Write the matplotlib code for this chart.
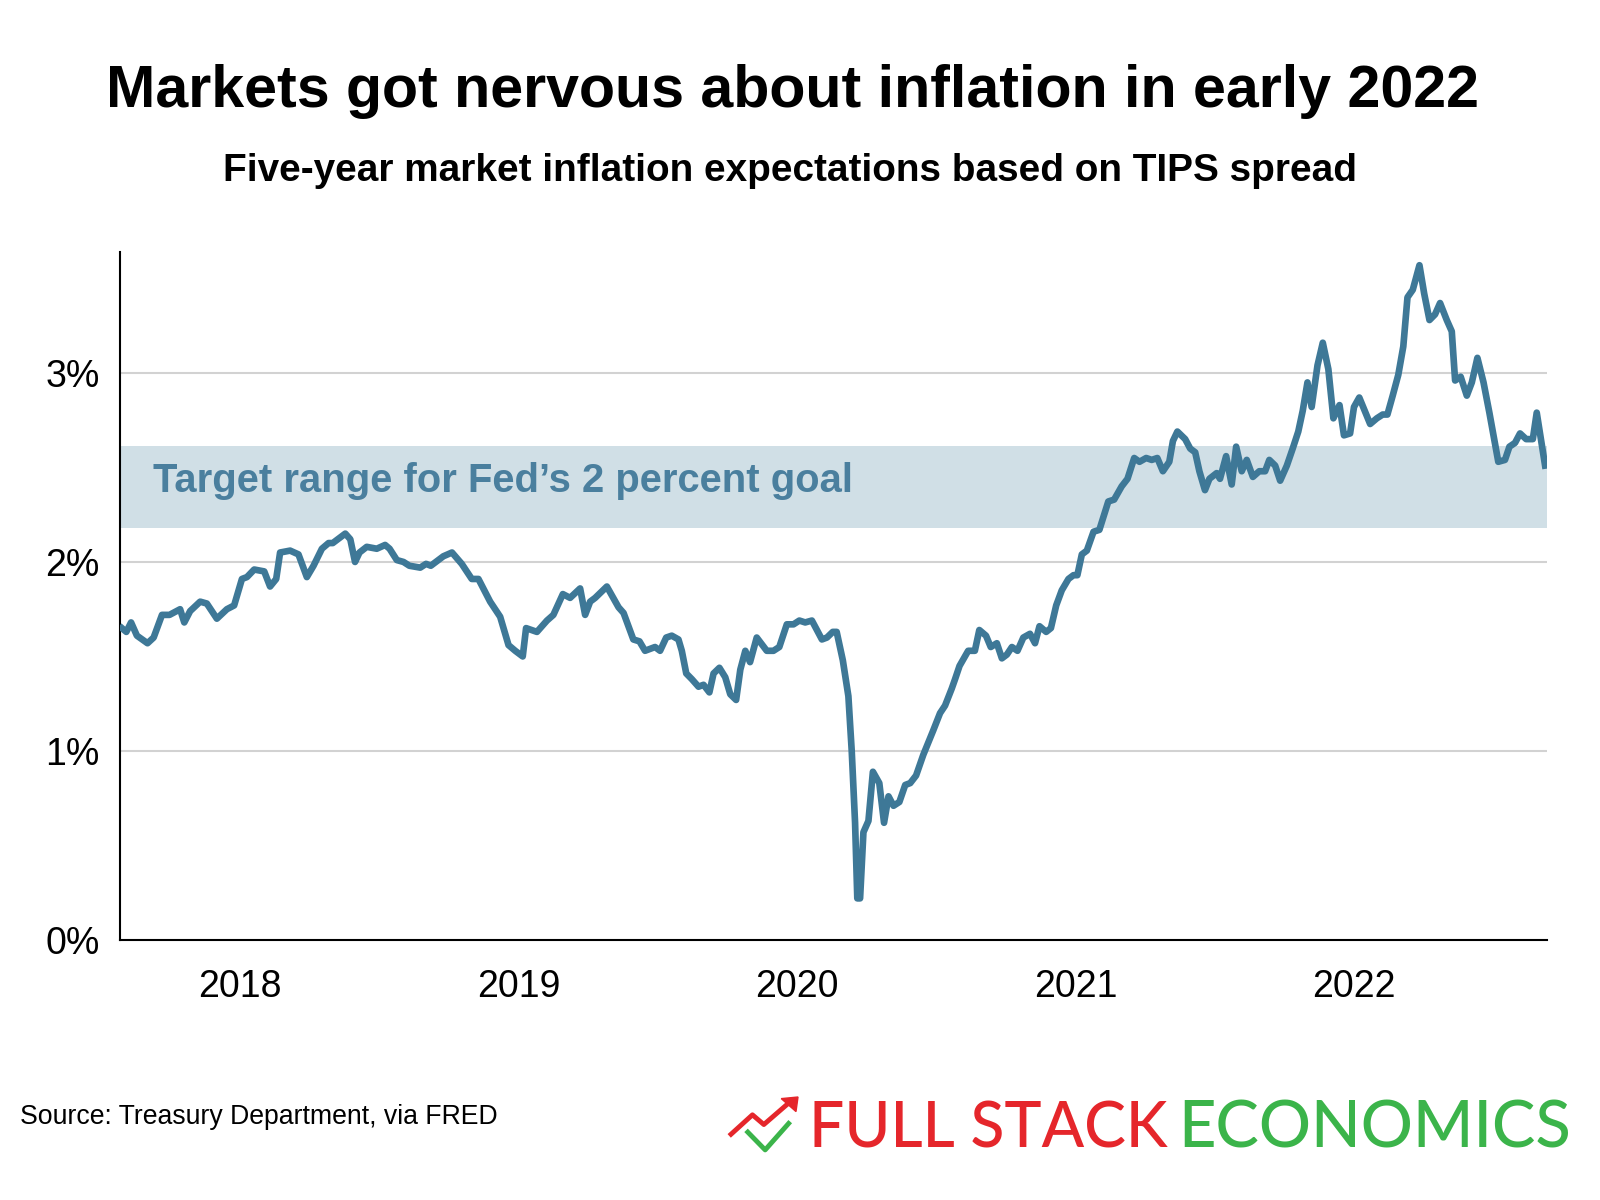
import matplotlib
matplotlib.use("Agg")
import matplotlib.pyplot as plt
from matplotlib.lines import Line2D
from matplotlib.patches import Polygon

# five-year breakeven (TIPS spread); dates as decimal years
dates = [
    2017.576, 2017.592, 2017.609, 2017.630, 2017.668, 2017.690, 2017.720, 2017.747,
    2017.785, 2017.800, 2017.821, 2017.857, 2017.881, 2017.917, 2017.953, 2017.979,
    2018.007, 2018.025, 2018.051, 2018.087, 2018.108, 2018.130, 2018.144, 2018.180,
    2018.210, 2018.240, 2018.264, 2018.294, 2018.318, 2018.333, 2018.378, 2018.396,
    2018.413, 2018.429, 2018.455, 2018.491, 2018.521, 2018.537, 2018.563, 2018.587,
    2018.608, 2018.647, 2018.668, 2018.685, 2018.730, 2018.761, 2018.796, 2018.832,
    2018.856, 2018.898, 2018.934, 2018.964, 2018.988, 2019.015, 2019.027, 2019.066,
    2019.102, 2019.125, 2019.159, 2019.185, 2019.221, 2019.239, 2019.257, 2019.275,
    2019.317, 2019.359, 2019.377, 2019.412, 2019.434, 2019.454, 2019.490, 2019.508,
    2019.530, 2019.550, 2019.574, 2019.586, 2019.602, 2019.622, 2019.646, 2019.664,
    2019.685, 2019.700, 2019.721, 2019.742, 2019.760, 2019.781, 2019.796, 2019.814,
    2019.831, 2019.855, 2019.891, 2019.915, 2019.936, 2019.963, 2019.987, 2020.008,
    2020.029, 2020.053, 2020.089, 2020.107, 2020.128, 2020.142, 2020.164, 2020.184,
    2020.196, 2020.208, 2020.216, 2020.226, 2020.238, 2020.256, 2020.272, 2020.295,
    2020.312, 2020.328, 2020.346, 2020.367, 2020.388, 2020.406, 2020.427, 2020.453,
    2020.489, 2020.513, 2020.531, 2020.555, 2020.567, 2020.583, 2020.614, 2020.638,
    2020.654, 2020.678, 2020.695, 2020.717, 2020.735, 2020.753, 2020.771, 2020.791,
    2020.812, 2020.836, 2020.854, 2020.870, 2020.894, 2020.911, 2020.930, 2020.950,
    2020.974, 2020.992, 2021.006, 2021.022, 2021.040, 2021.064, 2021.085, 2021.117,
    2021.138, 2021.165, 2021.186, 2021.210, 2021.229, 2021.253, 2021.273, 2021.293,
    2021.313, 2021.336, 2021.349, 2021.365, 2021.393, 2021.411, 2021.429, 2021.444,
    2021.464, 2021.480, 2021.506, 2021.518, 2021.540, 2021.560, 2021.576, 2021.596,
    2021.614, 2021.636, 2021.659, 2021.680, 2021.695, 2021.716, 2021.734, 2021.758,
    2021.779, 2021.799, 2021.815, 2021.832, 2021.847, 2021.868, 2021.887, 2021.907,
    2021.925, 2021.947, 2021.963, 2021.985, 2021.999, 2022.018, 2022.057, 2022.081,
    2022.102, 2022.119, 2022.138, 2022.158, 2022.176, 2022.191, 2022.210, 2022.234,
    2022.251, 2022.270, 2022.290, 2022.308, 2022.332, 2022.350, 2022.362, 2022.382,
    2022.404, 2022.422, 2022.442, 2022.464, 2022.485, 2022.517, 2022.541, 2022.557,
    2022.577, 2022.595, 2022.617, 2022.641, 2022.655, 2022.685,
]
breakeven = [
    1.65, 1.63, 1.68, 1.61, 1.57, 1.60, 1.72, 1.72,
    1.75, 1.68, 1.74, 1.79, 1.78, 1.70, 1.75, 1.77,
    1.91, 1.92, 1.96, 1.95, 1.87, 1.91, 2.05, 2.06,
    2.04, 1.92, 1.98, 2.07, 2.10, 2.10, 2.15, 2.12,
    2.00, 2.05, 2.08, 2.07, 2.09, 2.07, 2.01, 2.00,
    1.98, 1.97, 1.99, 1.98, 2.03, 2.05, 1.99, 1.91,
    1.91, 1.79, 1.71, 1.56, 1.53, 1.50, 1.65, 1.63,
    1.69, 1.72, 1.83, 1.81, 1.86, 1.72, 1.79, 1.81,
    1.87, 1.76, 1.73, 1.59, 1.58, 1.53, 1.55, 1.53,
    1.60, 1.61, 1.59, 1.53, 1.41, 1.38, 1.34, 1.35,
    1.31, 1.41, 1.44, 1.39, 1.30, 1.27, 1.43, 1.53,
    1.47, 1.60, 1.53, 1.53, 1.55, 1.67, 1.67, 1.69,
    1.68, 1.69, 1.59, 1.60, 1.63, 1.63, 1.48, 1.29,
    1.00, 0.62, 0.22, 0.22, 0.57, 0.63, 0.89, 0.83,
    0.62, 0.76, 0.71, 0.73, 0.82, 0.83, 0.87, 0.98,
    1.11, 1.20, 1.24, 1.33, 1.38, 1.45, 1.53, 1.53,
    1.64, 1.61, 1.55, 1.57, 1.49, 1.51, 1.55, 1.53,
    1.60, 1.62, 1.57, 1.66, 1.63, 1.65, 1.77, 1.85,
    1.91, 1.93, 1.93, 2.04, 2.06, 2.16, 2.17, 2.32,
    2.33, 2.40, 2.44, 2.55, 2.53, 2.55, 2.54, 2.55,
    2.48, 2.53, 2.64, 2.69, 2.65, 2.60, 2.58, 2.48,
    2.38, 2.44, 2.47, 2.44, 2.56, 2.41, 2.61, 2.48,
    2.54, 2.45, 2.48, 2.48, 2.54, 2.51, 2.43, 2.51,
    2.60, 2.69, 2.80, 2.95, 2.82, 3.04, 3.16, 3.02,
    2.76, 2.83, 2.67, 2.68, 2.82, 2.87, 2.73, 2.76,
    2.78, 2.78, 2.88, 2.99, 3.14, 3.40, 3.44, 3.57,
    3.42, 3.28, 3.31, 3.37, 3.28, 3.22, 2.96, 2.98,
    2.88, 2.95, 3.08, 2.95, 2.79, 2.53, 2.54, 2.61,
    2.63, 2.68, 2.65, 2.65, 2.79, 2.51,
]
year_ticks = [2018, 2019, 2020, 2021, 2022]
pct_ticks = [0, 1, 2, 3]
target_low, target_high = 2.18, 2.615

LINE = '#3e7897'
BAND = '#d0dfe6'
LABEL = '#4a7f9e'

fig = plt.figure(figsize=(16, 12), dpi=100)
ax = fig.add_axes([0.0753, 0.2167, 0.8916, 0.5733])

ax.axhspan(target_low, target_high, color=BAND, lw=0, zorder=1)
for v in pct_ticks[1:]:
    ax.axhline(v, color='#d2d2d2', lw=1.5, zorder=0)
ax.plot(dates, breakeven, color=LINE, lw=4.8, solid_joinstyle='round', zorder=3)

ax.text(0.023, 2.37, 'Target range for Fed\u2019s 2 percent goal',
        transform=ax.get_yaxis_transform(), color=LABEL,
        fontsize=28.8, fontweight='bold', family='Liberation Sans', va='baseline')

ax.set_xlim(2017.571, 2022.692)
ax.set_ylim(0, 3.64)
ax.set_xticks(year_ticks)
ax.set_xticklabels([str(y) for y in year_ticks])
ax.set_yticks(pct_ticks)
ax.set_yticklabels([f'{v}%' for v in pct_ticks])
ax.tick_params(length=0, labelsize=27)
ax.tick_params(axis='x', pad=21)
ax.tick_params(axis='y', pad=15)
for lab in ax.get_xticklabels() + ax.get_yticklabels():
    lab.set_family('Liberation Sans')
for s in ['top', 'right']:
    ax.spines[s].set_visible(False)
for s in ['left', 'bottom']:
    ax.spines[s].set_linewidth(1.5)
    ax.spines[s].set_color('black')

fig.text(0.495, 0.9108, 'Markets got nervous about inflation in early 2022',
         ha='center', va='baseline', fontsize=42.6, fontweight='bold',
         family='Liberation Sans')
fig.text(0.494, 0.8495, 'Five-year market inflation expectations based on TIPS spread',
         ha='center', va='baseline', fontsize=27.9, fontweight='bold',
         family='Liberation Sans')
fig.text(0.0128, 0.0637, 'Source: Treasury Department, via FRED',
         ha='left', va='baseline', fontsize=19.2, family='Liberation Sans')

# logo
RED = '#e5262b'
GREEN = '#3bb44a'
bx0, bx1, by0, by1 = 731, 798, 1097, 1151


def bp(fx, fy):
    return ((bx0 + fx * (bx1 - bx0)) / 1600, 1 - (by0 + fy * (by1 - by0)) / 1200)


red_pts = [bp(0, 0.69), bp(0.32, 0.33), bp(0.49, 0.51), bp(0.9, 0.07)]
green_pts = [bp(0.25, 0.65), bp(0.51, 0.98), bp(0.86, 0.49)]
fig.add_artist(Line2D([p[0] for p in red_pts], [p[1] for p in red_pts],
                      color=RED, lw=3.5, transform=fig.transFigure))
fig.add_artist(Line2D([p[0] for p in green_pts], [p[1] for p in green_pts],
                      color=GREEN, lw=3.5, transform=fig.transFigure))
fig.add_artist(Polygon([bp(0.75, 0.03), bp(1.0, 0.0), bp(0.97, 0.27)],
                       closed=True, color=RED, transform=fig.transFigure))

fig.text(809 / 1600, 1 - 1148 / 1200, 'FULL STACK', color=RED, ha='left',
         va='baseline', fontsize=45, family='Lato', fontweight='medium')
fig.text(1571 / 1600, 1 - 1148 / 1200, 'ECONOMICS', color=GREEN, ha='right',
         va='baseline', fontsize=46.8, family='Lato', fontweight='medium')

fig.savefig('out.png', dpi=100, facecolor='white')
